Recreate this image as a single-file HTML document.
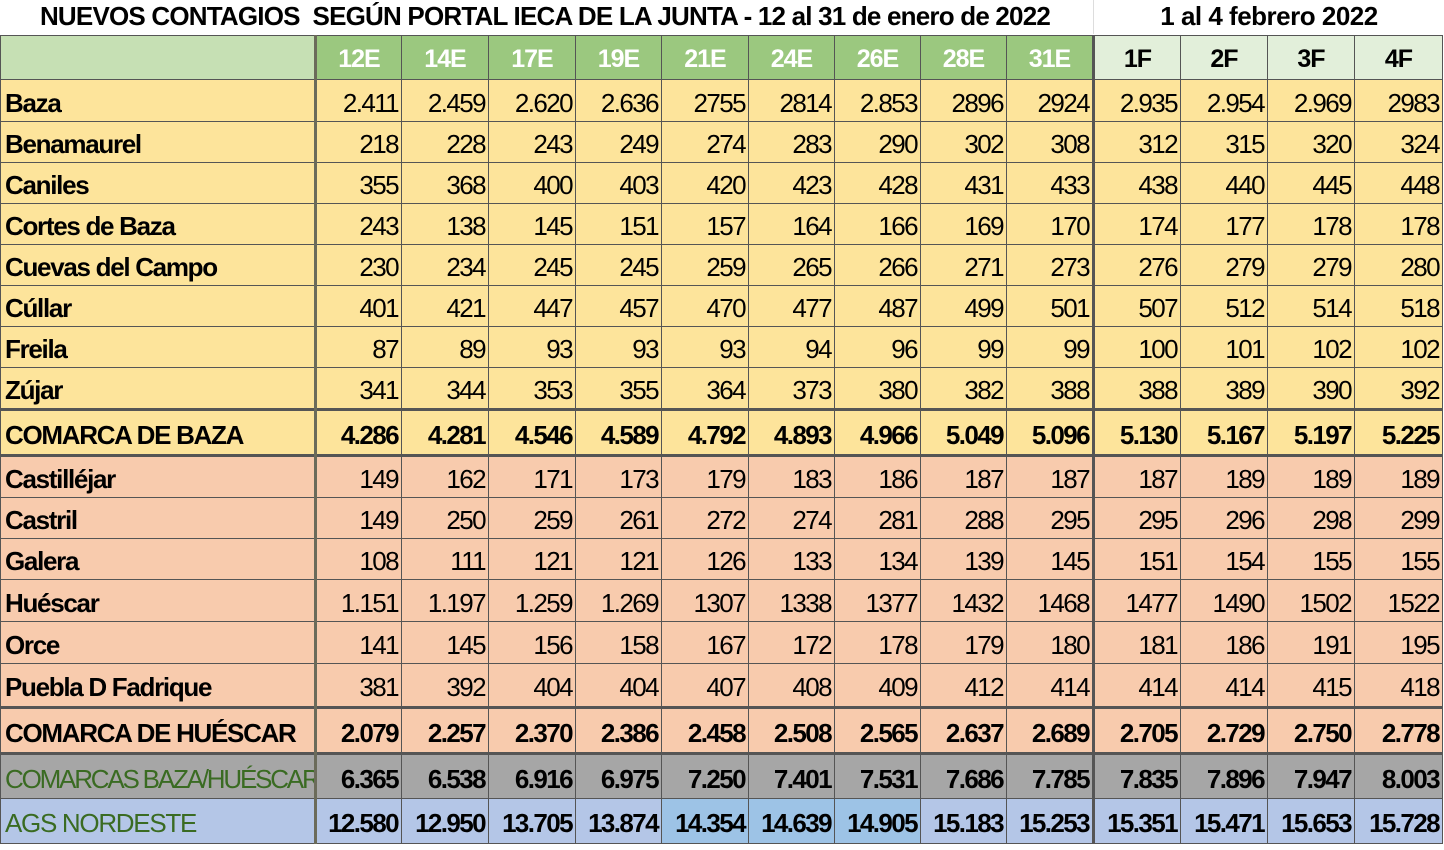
<!DOCTYPE html>
<html><head><meta charset="utf-8">
<style>
body{margin:0;width:1444px;height:850px;background:#fff;overflow:hidden;position:relative;font-family:"Liberation Sans",sans-serif;}
.t1{position:absolute;top:0;left:0;width:1090px;height:34px;text-align:center;font:bold 26px/32px "Liberation Sans",sans-serif;letter-spacing:-0.8px;}
.t2{position:absolute;top:0;left:1093px;width:350px;height:34px;text-align:center;font:bold 26px/32px "Liberation Sans",sans-serif;border-left:1px solid #ddd;letter-spacing:-0.5px;}
table{position:absolute;top:35px;left:0;border-collapse:collapse;table-layout:fixed;width:1443px;}
td{border:1.5px solid #555;padding:5px 3px 0 0;text-align:right;font-size:26px;letter-spacing:-1.6px;color:#000;white-space:nowrap;overflow:hidden;vertical-align:middle;}
td:first-child{text-align:left;padding-left:4px;font-weight:bold;border-right:3px solid #6b6b5a;letter-spacing:-1.3px;}
tr.h td{background:#9bc87f;color:#fff;text-align:center;font-weight:bold;font-size:25px;padding:3px 0 0 0;letter-spacing:-1px;}
tr.h td:first-child{background:#c6e0b4;}
tr.h td.f{background:#e2efda;color:#000;font-size:25px;}
tr.y td{background:#fde49b;}
tr.p td{background:#f8cbad;}
tr.b td{font-weight:bold;}
tr.g td{background:#a6a6a6;font-weight:bold;}
tr.l td{background:#b4c6e7;font-weight:bold;}
tr.l td.d{background:#9dc3e6;}
tr.g td:first-child,tr.l td:first-child{color:#3a6b22;font-weight:normal;}
tr.g td:first-child{letter-spacing:-2.2px;}
tr.sep td{border-top:3px solid #555;}
td.fb{border-left:3px solid #555;}
</style></head><body>
<div class="t1">NUEVOS CONTAGIOS&nbsp; SEGÚN PORTAL IECA DE LA JUNTA - 12 al 31 de enero de 2022</div>
<div class="t2">1 al 4 febrero 2022</div>
<table>
<colgroup><col style="width:315px"><col style="width:86px"><col style="width:87px"><col style="width:87px"><col style="width:86px"><col style="width:87px"><col style="width:86px"><col style="width:86px"><col style="width:86px"><col style="width:87px"><col style="width:87px"><col style="width:87px"><col style="width:87px"><col style="width:88px"></colgroup>
<tr class="h" style="height:44px"><td></td><td>12E</td><td>14E</td><td>17E</td><td>19E</td><td>21E</td><td>24E</td><td>26E</td><td>28E</td><td>31E</td><td class="f fb">1F</td><td class="f">2F</td><td class="f">3F</td><td class="f">4F</td></tr>
<tr class="y" style="height:42px"><td>Baza</td><td>2.411</td><td>2.459</td><td>2.620</td><td>2.636</td><td>2755</td><td>2814</td><td>2.853</td><td>2896</td><td>2924</td><td class="fb">2.935</td><td>2.954</td><td>2.969</td><td>2983</td></tr>
<tr class="y" style="height:41px"><td>Benamaurel</td><td>218</td><td>228</td><td>243</td><td>249</td><td>274</td><td>283</td><td>290</td><td>302</td><td>308</td><td class="fb">312</td><td>315</td><td>320</td><td>324</td></tr>
<tr class="y" style="height:41px"><td>Caniles</td><td>355</td><td>368</td><td>400</td><td>403</td><td>420</td><td>423</td><td>428</td><td>431</td><td>433</td><td class="fb">438</td><td>440</td><td>445</td><td>448</td></tr>
<tr class="y" style="height:41px"><td>Cortes de Baza</td><td>243</td><td>138</td><td>145</td><td>151</td><td>157</td><td>164</td><td>166</td><td>169</td><td>170</td><td class="fb">174</td><td>177</td><td>178</td><td>178</td></tr>
<tr class="y" style="height:41px"><td>Cuevas del Campo</td><td>230</td><td>234</td><td>245</td><td>245</td><td>259</td><td>265</td><td>266</td><td>271</td><td>273</td><td class="fb">276</td><td>279</td><td>279</td><td>280</td></tr>
<tr class="y" style="height:41px"><td>Cúllar</td><td>401</td><td>421</td><td>447</td><td>457</td><td>470</td><td>477</td><td>487</td><td>499</td><td>501</td><td class="fb">507</td><td>512</td><td>514</td><td>518</td></tr>
<tr class="y" style="height:41px"><td>Freila</td><td>87</td><td>89</td><td>93</td><td>93</td><td>93</td><td>94</td><td>96</td><td>99</td><td>99</td><td class="fb">100</td><td>101</td><td>102</td><td>102</td></tr>
<tr class="y" style="height:42px"><td>Zújar</td><td>341</td><td>344</td><td>353</td><td>355</td><td>364</td><td>373</td><td>380</td><td>382</td><td>388</td><td class="fb">388</td><td>389</td><td>390</td><td>392</td></tr>
<tr class="y b sep" style="height:46px"><td>COMARCA DE BAZA</td><td>4.286</td><td>4.281</td><td>4.546</td><td>4.589</td><td>4.792</td><td>4.893</td><td>4.966</td><td>5.049</td><td>5.096</td><td class="fb">5.130</td><td>5.167</td><td>5.197</td><td>5.225</td></tr>
<tr class="p sep" style="height:42px"><td>Castilléjar</td><td>149</td><td>162</td><td>171</td><td>173</td><td>179</td><td>183</td><td>186</td><td>187</td><td>187</td><td class="fb">187</td><td>189</td><td>189</td><td>189</td></tr>
<tr class="p" style="height:41px"><td>Castril</td><td>149</td><td>250</td><td>259</td><td>261</td><td>272</td><td>274</td><td>281</td><td>288</td><td>295</td><td class="fb">295</td><td>296</td><td>298</td><td>299</td></tr>
<tr class="p" style="height:41px"><td>Galera</td><td>108</td><td>111</td><td>121</td><td>121</td><td>126</td><td>133</td><td>134</td><td>139</td><td>145</td><td class="fb">151</td><td>154</td><td>155</td><td>155</td></tr>
<tr class="p" style="height:42px"><td>Huéscar</td><td>1.151</td><td>1.197</td><td>1.259</td><td>1.269</td><td>1307</td><td>1338</td><td>1377</td><td>1432</td><td>1468</td><td class="fb">1477</td><td>1490</td><td>1502</td><td>1522</td></tr>
<tr class="p" style="height:42px"><td>Orce</td><td>141</td><td>145</td><td>156</td><td>158</td><td>167</td><td>172</td><td>178</td><td>179</td><td>180</td><td class="fb">181</td><td>186</td><td>191</td><td>195</td></tr>
<tr class="p" style="height:44px"><td>Puebla D Fadrique</td><td>381</td><td>392</td><td>404</td><td>404</td><td>407</td><td>408</td><td>409</td><td>412</td><td>414</td><td class="fb">414</td><td>414</td><td>415</td><td>418</td></tr>
<tr class="p b sep" style="height:46px"><td>COMARCA DE HUÉSCAR</td><td>2.079</td><td>2.257</td><td>2.370</td><td>2.386</td><td>2.458</td><td>2.508</td><td>2.565</td><td>2.637</td><td>2.689</td><td class="fb">2.705</td><td>2.729</td><td>2.750</td><td>2.778</td></tr>
<tr class="g sep" style="height:45px"><td>COMARCAS BAZA/HUÉSCAR</td><td>6.365</td><td>6.538</td><td>6.916</td><td>6.975</td><td>7.250</td><td>7.401</td><td>7.531</td><td>7.686</td><td>7.785</td><td class="fb">7.835</td><td>7.896</td><td>7.947</td><td>8.003</td></tr>
<tr class="l" style="height:45px"><td>AGS NORDESTE</td><td>12.580</td><td>12.950</td><td>13.705</td><td>13.874</td><td class="d">14.354</td><td class="d">14.639</td><td class="d">14.905</td><td>15.183</td><td>15.253</td><td class="fb">15.351</td><td>15.471</td><td>15.653</td><td>15.728</td></tr>
</table>
</body></html>
